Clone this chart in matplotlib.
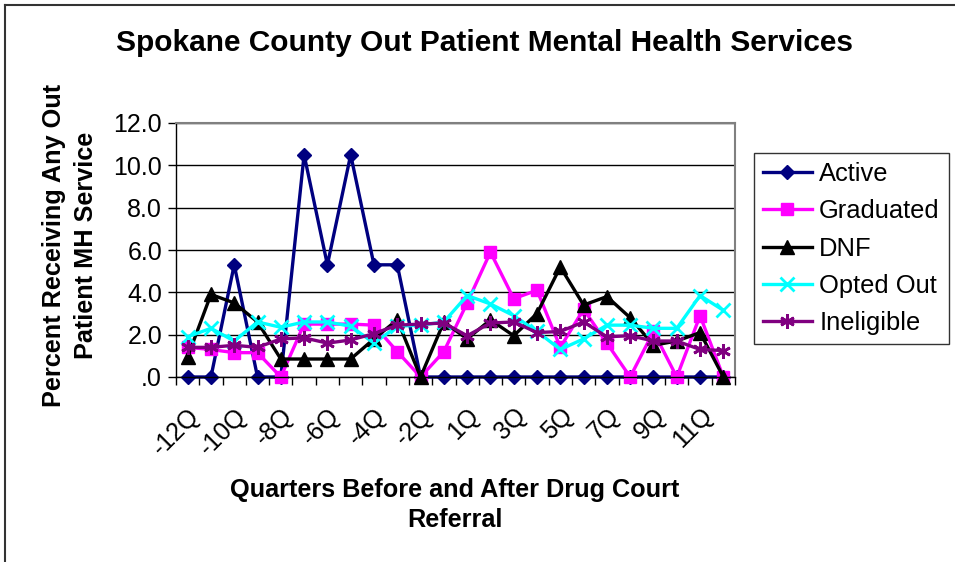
import numpy as np
import matplotlib
matplotlib.use("Agg")
import matplotlib.pyplot as plt
from matplotlib.lines import Line2D

plt.rcParams['font.family'] = ['Liberation Sans', 'DejaVu Sans']

# quarters before / after referral (no quarter 0)
quarters = [f"{q}Q" for q in list(range(-12, 0)) + list(range(1, 13))]

active = [0, 0, 5.3, 0, 0, 10.5, 5.3, 10.5, 5.3, 5.3, 0, 0,
          0, 0, 0, 0, 0, 0, 0, 0, 0, 0, 0, 0]
graduated = [1.4, 1.3, 1.15, 1.15, 0, 2.5, 2.5, 2.5, 2.45, 1.2, 0, 1.2,
             3.5, 5.9, 3.7, 4.1, 1.4, 3.2, 1.6, 0, 2.15, 0, 2.9, 0]
dnf = [0.95, 3.9, 3.5, 2.6, 0.85, 0.85, 0.85, 0.85, 1.8, 2.7, 0, 2.6,
       1.8, 2.7, 1.95, 3.0, 5.2, 3.4, 3.8, 2.8, 1.5, 1.7, 2.1, 0]
opted_out = [1.9, 2.3, 1.7, 2.6, 2.35, 2.6, 2.6, 2.4, 1.6, 2.4, 2.45, 2.6,
             3.85, 3.45, 2.9, 2.15, 1.3, 1.8, 2.45, 2.45, 2.3, 2.3, 3.85, 3.15]
ineligible = [1.4, 1.4, 1.5, 1.4, 1.8, 1.85, 1.6, 1.75, 2.05, 2.45, 2.5, 2.55,
              1.95, 2.55, 2.6, 2.1, 2.15, 2.6, 1.9, 1.95, 1.7, 1.7, 1.3, 1.25]

series = [
    ("Active", active, '#000080', dict(marker='D', markersize=7.5)),
    ("Graduated", graduated, '#FF00FF', dict(marker='s', markersize=8.5)),
    ("DNF", dnf, '#000000', dict(marker='^', markersize=9.5)),
    ("Opted Out", opted_out, '#00FFFF', dict(marker='x', markersize=9.5, markeredgewidth=2)),
    ("Ineligible", ineligible, '#800080', dict(marker=(6, 2, 0), markersize=10.5, markeredgewidth=2)),
]

fig = plt.figure(figsize=(9.55, 5.62), dpi=100)
ax = fig.add_axes([176 / 955, 1 - 377 / 562, (735 - 176) / 955, (377 - 123) / 562])

x = np.arange(len(quarters))
for name, vals, col, mk in series:
    ax.plot(x, vals, color=col, linewidth=2.4, markerfacecolor=col, markeredgecolor=col,
            label=name, clip_on=False, **mk)

ax.set_xlim(-0.5, len(quarters) - 0.5)
ax.set_ylim(0, 12)
ax.set_yticks(np.arange(0, 13, 2))
ax.set_yticklabels(['.0' if v == 0 else f"{v:.1f}" for v in np.arange(0, 13, 2)], fontsize=18)
ax.yaxis.grid(True, color='black', linewidth=1)
ax.set_axisbelow(True)

ax.set_xticks(x[::2])
ax.set_xticklabels(quarters[::2], rotation=45, ha='right', va='top',
                   rotation_mode='anchor', fontsize=18)
ax.set_xticks(np.arange(-0.5, len(quarters)), minor=True)
ax.tick_params(axis='x', which='major', length=0, pad=19)
ax.tick_params(axis='x', which='minor', length=6, direction='out', width=1)
ax.tick_params(axis='y', length=6, width=1, direction='out', pad=4)

for s in ['top', 'right']:
    ax.spines[s].set_color('#808080')
    ax.spines[s].set_linewidth(1.5)
for s in ['left', 'bottom']:
    ax.spines[s].set_color('black')
    ax.spines[s].set_linewidth(1)

fig.text(484 / 955, 1 - 43 / 562, "Spokane County Out Patient Mental Health Services",
         ha='center', va='center', fontsize=21.5, fontweight='bold')
fig.text(455 / 955, 1 - 505 / 562, "Quarters Before and After Drug Court\nReferral",
         ha='center', va='center', fontsize=18.2, fontweight='bold', linespacing=1.35)
fig.text(70 / 955, 1 - 245 / 562, "Percent Receiving Any Out\nPatient MH Service",
         ha='center', va='center', rotation=90, fontsize=18.2, fontweight='bold',
         linespacing=1.45)

leg = fig.legend(loc='upper left', bbox_to_anchor=(754 / 955, 1 - 153 / 562),
                 fontsize=18.4, frameon=True, fancybox=False, edgecolor='black',
                 handlelength=1.9, labelspacing=0.52, borderpad=0.35, handletextpad=0.3,
                 borderaxespad=0)
leg.get_frame().set_linewidth(1)

# outer chart border (top and left edges visible)
fig.add_artist(Line2D([5 / 955, 1], [1 - 5 / 562, 1 - 5 / 562], color='#333333', linewidth=1.5))
fig.add_artist(Line2D([5 / 955, 5 / 955], [0, 1 - 5 / 562], color='#333333', linewidth=1.5))

fig.savefig("out.png", dpi=100)
